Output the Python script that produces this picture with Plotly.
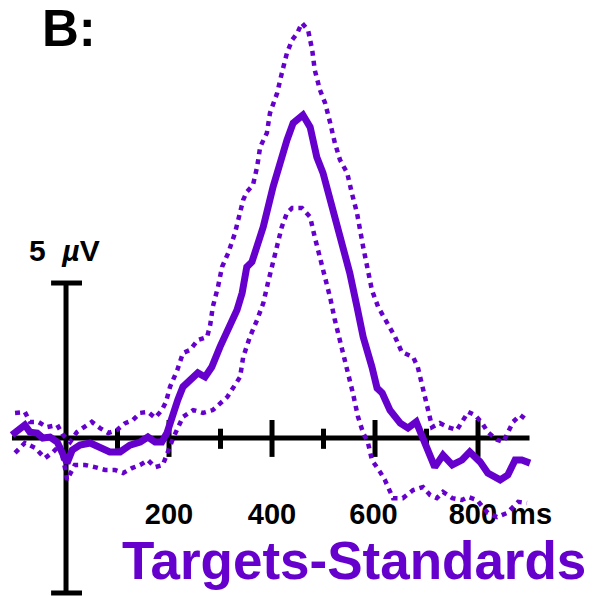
import plotly.graph_objects as go

PURPLE = "#6600CC"

# ---- data (ms, microvolts) ----
mean_t = [-105, -80, -70, -56, -45, -31, -17, -8, 2, 12, 27, 47, 66, 85, 105, 124, 144, 159, 173, 186,
          196, 206, 217, 227, 241, 256, 270, 283, 299, 313, 332, 342, 351, 361, 371, 383, 402, 416, 429, 441,
          460, 474, 487, 499, 517, 532, 538, 551, 565, 577, 594, 604, 614, 629, 649, 664, 680, 693, 707, 716,
          732, 750, 769, 784, 804, 819, 843, 858, 872, 885, 901]
mean_v = [0.10, 0.42, 0.19, 0.16, 0.00, 0.03, -0.13, -0.45, -0.81, -0.39, -0.23, -0.16, -0.29, -0.45, -0.45, -0.23, -0.13, 0.03, -0.13, -0.13,
          0.16, 0.74, 1.23, 1.65, 1.87, 2.10, 1.97, 2.29, 2.94, 3.48, 4.13, 4.68, 5.52, 5.68, 6.16, 6.81, 8.10, 8.97, 9.61, 10.16,
          10.42, 10.03, 9.06, 8.55, 7.45, 6.39, 5.97, 5.32, 4.23, 3.26, 2.29, 1.61, 1.45, 0.90, 0.48, 0.32, 0.52, 0.00, -0.61, -0.94,
          -0.55, -0.87, -0.71, -0.45, -0.77, -1.13, -1.35, -1.19, -0.71, -0.71, -0.81]

upper_t = [-99, -80, -70, -54, -37, -17, -6, 8, 21, 37, 50, 66, 82, 99, 115, 130, 144, 159, 173, 186,
           194, 202, 216, 227, 241, 256, 274, 280, 285, 295, 303, 315, 328, 344, 351, 363, 371, 377, 390, 396,
           410, 419, 429, 439, 449, 458, 470, 478, 483, 493, 503, 513, 522, 532, 546, 555, 565, 577, 586, 594,
           606, 625, 639, 652, 674, 683, 691, 701, 711, 726, 742, 759, 771, 781, 794, 808, 819, 837, 849, 858,
           868, 882, 895]
upper_v = [0.81, 0.84, 0.52, 0.52, 0.35, 0.42, 0.10, -0.13, 0.19, 0.35, 0.52, 0.32, 0.16, 0.26, 0.48, 0.58, 0.81, 0.84, 0.65, 0.90,
           1.16, 1.65, 2.19, 2.74, 2.84, 3.16, 3.26, 3.65, 4.23, 4.87, 5.52, 5.97, 6.61, 7.68, 7.94, 8.16, 8.74, 9.39, 9.84, 10.48,
           11.13, 11.77, 12.42, 12.84, 13.06, 13.39, 13.16, 12.52, 11.87, 11.23, 10.81, 10.16, 9.52, 8.97, 8.55, 7.90, 7.26, 6.16, 5.42, 4.77,
           4.23, 3.71, 3.26, 2.77, 2.61, 2.29, 1.77, 1.00, 0.35, 0.48, 0.35, 0.26, 0.58, 0.84, 0.74, 0.48, 0.19, -0.06, -0.13, 0.19,
           0.52, 0.74, 0.58]

lower_t = [-99, -80, -60, -41, -25, -12, -2, 2, 17, 37, 56, 76, 95, 111, 128, 144, 159, 173, 188, 198,
           208, 227, 247, 266, 285, 313, 338, 344, 357, 371, 383, 392, 402, 410, 419, 429, 439, 458, 474, 483,
           493, 503, 513, 522, 532, 542, 551, 557, 567, 577, 586, 594, 610, 619, 635, 654, 674, 693, 707, 720,
           732, 750, 769, 781, 798, 819, 837, 856, 866, 878, 895]
lower_v = [-0.48, -0.16, -0.32, -0.65, -0.45, -0.23, -0.97, -1.35, -0.87, -0.87, -0.94, -1.03, -1.03, -1.13, -0.97, -0.87, -0.71, -0.94, -0.87, -0.45,
           0.00, 0.68, 0.90, 0.81, 0.90, 1.32, 1.97, 2.61, 3.26, 3.81, 4.35, 5.00, 5.65, 6.16, 6.81, 7.26, 7.42, 7.42, 7.13, 6.48,
           5.84, 5.16, 4.52, 3.81, 3.16, 2.52, 1.87, 1.45, 0.68, 0.16, -0.13, -0.71, -1.10, -1.35, -1.94, -1.94, -1.68, -1.58, -1.84, -1.94,
           -1.74, -1.94, -2.00, -1.90, -2.00, -2.42, -2.55, -2.42, -2.26, -2.06, -2.10]

major_ticks = [200, 400, 600, 800]
minor_ticks = [100, 300, 500, 700]
tick_labels = ["200", "400", "600", "800"]
label_x = [200, 400, 597, 790]
x_start, x_end = -105, 900
scale_uv = 5
unit_label = "ms"
title_text = "B:"
cond_label = "Targets-Standards"

FONT = "Liberation Sans, Arial, sans-serif"

# ---- figure ----
fig = go.Figure()

def seg_list(xs, y0, y1):
    xx, yy = [], []
    for x in xs:
        xx += [x, x, None]
        yy += [y0, y1, None]
    return xx, yy

axis_kw = dict(mode="lines", line=dict(color="black", width=5), hoverinfo="skip", showlegend=False)
fig.add_trace(go.Scatter(x=[x_start, x_end], y=[0, 0], **axis_kw))
mx, my = seg_list(major_ticks, 0.58, -0.61)
fig.add_trace(go.Scatter(x=mx, y=my, **axis_kw))
nx, ny = seg_list(minor_ticks, 0.30, -0.35)
fig.add_trace(go.Scatter(x=nx, y=ny, **axis_kw))
fig.add_trace(go.Scatter(x=[0, 0], y=[-scale_uv, scale_uv], **axis_kw))
fig.add_trace(go.Scatter(x=[-29, 31, None, -29, 31], y=[scale_uv, scale_uv, None, -scale_uv, -scale_uv], **axis_kw))

# tick labels
fig.add_trace(go.Scatter(x=label_x + [903], y=[-2.55] * 5, mode="text",
                         text=tick_labels + [unit_label],
                         textfont=dict(family=FONT, size=29, color="black", weight="bold"),
                         hoverinfo="skip", showlegend=False))

# waveforms
fig.add_trace(go.Scatter(x=upper_t, y=upper_v, mode="lines",
                         line=dict(color=PURPLE, width=4.5, dash="5px,5px"), showlegend=False))
fig.add_trace(go.Scatter(x=lower_t, y=lower_v, mode="lines",
                         line=dict(color=PURPLE, width=4.5, dash="5px,5px"), showlegend=False))
fig.add_trace(go.Scatter(x=mean_t, y=mean_v, mode="lines",
                         line=dict(color=PURPLE, width=7), showlegend=False))

# texts
fig.add_annotation(x=-3, y=6.05, xref="x", yref="y", text="5&nbsp;&nbsp;<i>µ</i>V", showarrow=False,
                   font=dict(family=FONT, size=30, color="black", weight="bold"))
fig.add_annotation(x=5, y=13.2, xref="x", yref="y", text=title_text, showarrow=False,
                   font=dict(family=FONT, size=51, color="black", weight="bold"))
fig.add_annotation(x=560, y=-3.95, xref="x", yref="y", text=cond_label, showarrow=False,
                   font=dict(family=FONT, size=53, color=PURPLE, weight="bold"))

fig.update_layout(
    width=594, height=596,
    margin=dict(l=0, r=0, t=0, b=0),
    paper_bgcolor="white", plot_bgcolor="white",
    xaxis=dict(visible=False, range=[-128.2, 1025.2]),
    yaxis=dict(visible=False, range=[-5.097, 14.13]),
    showlegend=False,
)

fig.write_html("out.html", config={"displayModeBar": False},
               post_script="document.body.style.margin='0';document.body.style.overflow='hidden';")
